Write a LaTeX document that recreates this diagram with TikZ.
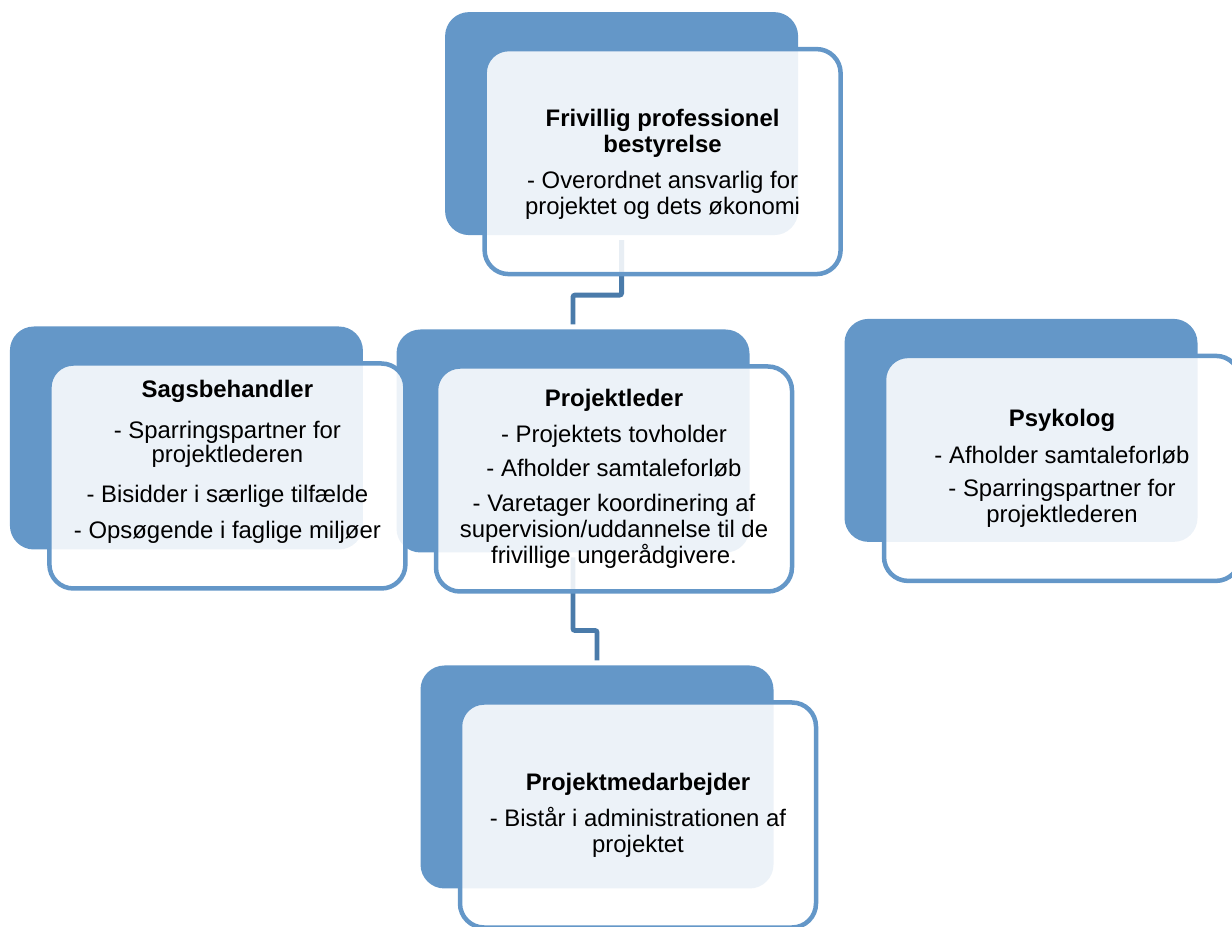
\documentclass[tikz,border=0pt]{standalone}
\usepackage{fontspec}
\setmainfont{Liberation Sans}

\definecolor{boxblue}{HTML}{6497C8}
\definecolor{linkblue}{HTML}{4A7BAA}

\tikzset{
    backbox/.style={fill=boxblue, rounded corners=0.6cm, minimum width=8.825cm,
        minimum height=5.575cm, inner sep=0pt, outer sep=0pt},
    frontbox/.style={draw=boxblue, line width=3.2pt, fill=white, fill opacity=0.88,
        rounded corners=0.6cm, minimum width=8.9cm, minimum height=5.625cm, inner sep=0pt},
    boxtext/.style={align=center, font=\fontsize{17}{18.5}\selectfont, inner sep=0pt},
    connector/.style={draw=linkblue, line width=3.5pt, rounded corners=1.5pt,
        shorten <=0.125cm, shorten >=0.125cm}
}

\begin{document}
\begin{tikzpicture}
    \useasboundingbox (0,0) rectangle (30.8,23.15);

    % Back boxes
    \node[backbox] (fb) at (15.54,20.06) {};
    \node[backbox] (sb) at (4.66,12.2) {};
    \node[backbox] (pl) at (14.325,12.125) {};
    \node[backbox] (ps) at (25.525,12.39) {};
    \node[backbox] (pm) at (14.925,3.725) {};

    % Connectors
    \draw[connector] (fb.south) -- ++(0,-1.5) -| (pl.north);
    \draw[connector] (pl.south) -- ++(0,-1.95) -| (pm.north);

    % Front boxes
    \node[frontbox] (fbf) at ([shift={(1.025,-0.95)}]fb.center) {};
    \node[frontbox] (sbf) at ([shift={(1.025,-0.95)}]sb.center) {};
    \node[frontbox] (plf) at ([shift={(1.025,-0.95)}]pl.center) {};
    \node[frontbox] (psf) at ([shift={(1.025,-0.95)}]ps.center) {};
    \node[frontbox] (pmf) at ([shift={(1.025,-0.95)}]pm.center) {};

    % Texts
    \node[boxtext] (fbt) at ([yshift=-0.07cm]fbf.center) {\textbf{Frivillig professionel}\\\textbf{bestyrelse}\\[7pt]
        - Overordnet ansvarlig for\\projektet og dets økonomi};
    \node[boxtext, font=\fontsize{17}{15.6}\selectfont] (sbt) at ([yshift=0.36cm]sbf.center)
        {\textbf{Sagsbehandler}\\[12.5pt]- Sparringspartner for\\projektlederen\\[12pt]
        - Bisidder i særlige tilfælde\\[8.5pt]- Opsøgende i faglige miljøer};
    \node[boxtext] (plt) at (plf) {\textbf{Projektleder}\\[7pt]- Projektets tovholder\\[5.5pt]
        - Afholder samtaleforløb\\[7pt]- Varetager koordinering af\\supervision/uddannelse til de\\
        frivillige ungerådgivere.};
    \node[boxtext] (pst) at (psf) {\textbf{Psykolog}\\[8pt]- Afholder samtaleforløb\\[5pt]
        - Sparringspartner for\\projektlederen};
    \node[boxtext] (pmt) at (pmf) {\textbf{Projektmedarbejder}\\[7pt]
        - Bistår i administrationen af\\projektet};
\end{tikzpicture}
\end{document}
